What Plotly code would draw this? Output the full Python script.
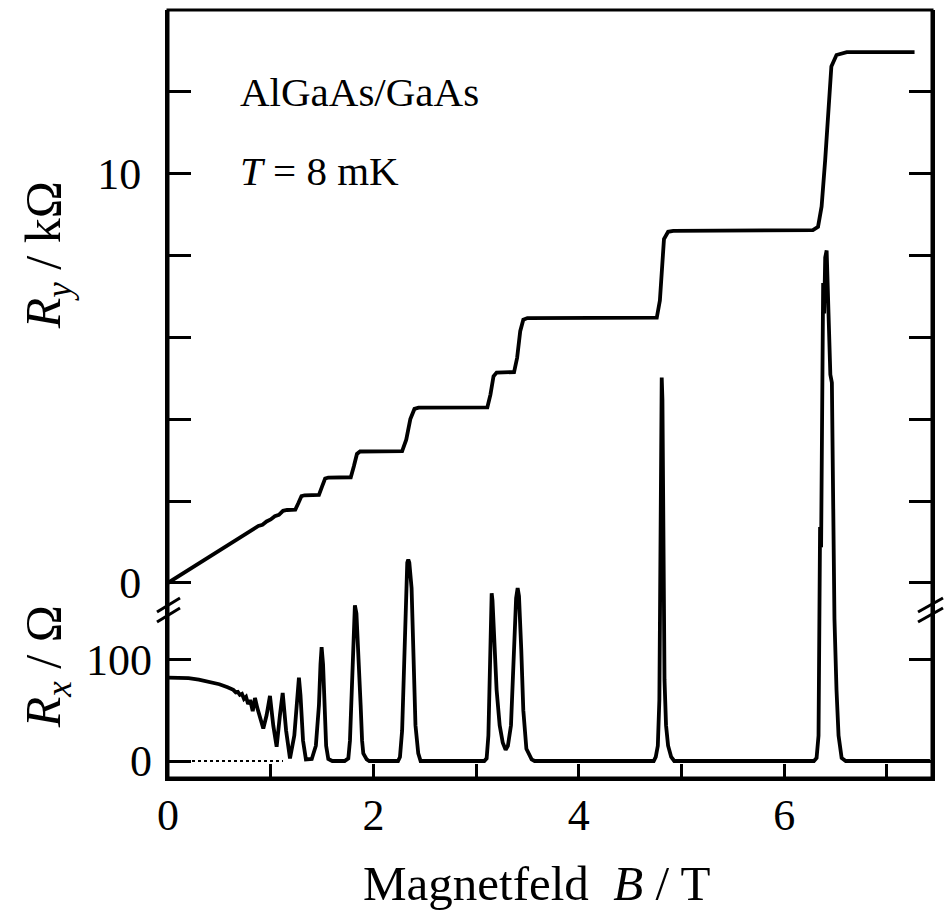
import plotly.graph_objects as go

# Hall resistance R_y (kOhm) versus magnetic field B (T)
field_hall = [0.00, 0.30, 0.60, 0.84, 0.88, 0.92, 0.96, 1.00, 1.04, 1.08, 1.12, 1.16,
              1.24, 1.27, 1.30, 1.33, 1.47, 1.50, 1.53, 1.56, 1.78, 1.81, 1.84, 1.87,
              2.28, 2.32, 2.36, 2.40, 2.44, 3.11, 3.14, 3.17, 3.20, 3.37, 3.40, 3.43,
              3.46, 3.50, 4.76, 4.79, 4.81, 4.83, 4.87, 4.92, 6.28, 6.33, 6.365, 6.40,
              6.46, 6.51, 6.61, 7.27]
r_hall_kohm = [0.00, 0.47, 0.94, 1.31, 1.39, 1.42, 1.50, 1.55, 1.63, 1.66, 1.76, 1.78,
               1.79, 1.95, 2.12, 2.14, 2.15, 2.35, 2.55, 2.57, 2.58, 2.85, 3.15, 3.21,
               3.22, 3.50, 4.00, 4.25, 4.28, 4.29, 4.60, 5.05, 5.14, 5.15, 5.50, 6.15,
               6.43, 6.47, 6.48, 6.90, 7.60, 8.40, 8.58, 8.60, 8.62, 8.70, 9.20, 10.34,
               12.62, 12.90, 12.97, 12.97]

# Longitudinal resistance R_x (Ohm) versus magnetic field B (T)
field_long = [0.00, 0.10, 0.20, 0.30, 0.40, 0.50, 0.58, 0.636, 0.66, 0.68, 0.70, 0.72,
              0.74, 0.76, 0.78, 0.80, 0.825, 0.847, 0.87, 0.90, 0.928, 0.96, 0.993,
              1.025, 1.058, 1.09, 1.117, 1.15, 1.188, 1.23, 1.26, 1.275, 1.29, 1.315,
              1.343, 1.40, 1.44, 1.47, 1.485, 1.496, 1.51, 1.525, 1.54, 1.561, 1.60,
              1.72, 1.756, 1.772, 1.789, 1.805, 1.82, 1.835, 1.853, 1.876, 1.89, 1.902,
              1.935, 1.96,
              2.24, 2.259, 2.28, 2.30, 2.317, 2.33, 2.34, 2.35, 2.372, 2.39, 2.41, 2.437,
              2.46,
              3.08, 3.103, 3.12, 3.135, 3.145, 3.152, 3.16, 3.174, 3.20, 3.23, 3.26,
              3.288, 3.31, 3.34, 3.37, 3.39, 3.405, 3.418, 3.44, 3.46, 3.49, 3.541, 3.57,
              4.73, 4.75, 4.77, 4.785, 4.795, 4.802, 4.808, 4.815, 4.825, 4.835, 4.85,
              4.87, 4.90, 4.93,
              6.29, 6.316, 6.335, 6.345, 6.35, 6.36, 6.37, 6.38, 6.39, 6.40, 6.414,
              6.425, 6.44, 6.45, 6.465, 6.47, 6.48, 6.49, 6.51, 6.53, 6.56, 6.60, 7.42]
r_long_ohm = [82.0, 82.0, 81.5, 80.0, 78.0, 75.5, 72.5, 70.0, 67.5, 68.0, 65.0, 66.0,
              61.0, 63.0, 56.0, 60.0, 49.0, 62.0, 52.0, 40.0, 32.0, 45.0, 64.0,
              35.0, 14.0, 45.0, 67.0, 30.0, 2.6, 25.0, 65.0, 82.0, 65.0, 20.0,
              1.6, 2.0, 15.0, 55.0, 95.0, 112.0, 95.0, 50.0, 15.0, 2.0, 0.0,
              0.0, 2.6, 20.0, 76.0, 130.0, 153.0, 145.0, 112.0, 55.0, 20.0, 7.5,
              1.6, 0.0,
              0.0, 4.0, 30.0, 110.0, 175.0, 195.0, 198.0, 195.0, 170.0, 100.0, 35.0, 7.5,
              0.0,
              0.0, 2.6, 25.0, 110.0, 160.0, 165.0, 158.0, 130.0, 70.0, 35.0, 18.0,
              11.0, 15.0, 35.0, 120.0, 160.0, 170.0, 162.0, 110.0, 50.0, 12.0, 1.6, 0.0,
              0.0, 4.0, 15.0, 60.0, 250.0, 360.0, 377.0, 355.0, 220.0, 80.0, 35.0,
              15.0, 4.0, 0.0,
              0.0, 3.0, 25.0, 120.0, 230.0, 210.0, 420.0, 470.0, 440.0, 495.0, 502.0,
              470.0, 435.0, 380.0, 372.0, 300.0, 220.0, 140.0, 70.0, 25.0, 3.0, 0.0, 0.0]

# Zero reference for R_x at low field
zero_ref_field = [0.0, 1.12]
zero_ref_ohm = [0.0, 0.0]

# Axis ranges and ticks
b_range = [0.0, 7.44]
hall_range = [-4.77, 14.0]
long_range = [-16.7, 738.4]
b_ticks = [0, 1, 2, 3, 4, 5, 6, 7]
b_ticktext = ["0", "", "2", "", "4", "", "6", ""]
hall_ticks = [0, 2, 4, 6, 8, 10, 12]
hall_ticktext = ["0", "", "", "", "", "10", ""]
long_ticks = [0, 100]
long_ticktext = ["0", "100"]

SERIF = "Liberation Serif"
INK = "black"

fig = go.Figure()
fig.add_trace(go.Scatter(x=field_hall, y=r_hall_kohm, mode="lines",
                         line=dict(color=INK, width=3.8), yaxis="y"))
fig.add_trace(go.Scatter(x=zero_ref_field, y=zero_ref_ohm, mode="lines",
                         line=dict(color=INK, width=2, dash="dot"), yaxis="y2"))
fig.add_trace(go.Scatter(x=field_long, y=r_long_ohm, mode="lines",
                         line=dict(color=INK, width=3.8), yaxis="y2"))

tickfont = dict(family=SERIF, size=44, color=INK)

fig.update_layout(
    width=949, height=921,
    margin=dict(l=168, r=17, t=10, b=143),
    paper_bgcolor="white", plot_bgcolor="white",
    showlegend=False,
    xaxis=dict(range=b_range, tickvals=b_ticks, ticktext=b_ticktext,
               ticks="inside", ticklen=14, tickwidth=3, tickcolor=INK,
               showline=True, linewidth=3, linecolor=INK, mirror=False,
               showgrid=False, zeroline=False, tickfont=tickfont,
               ticklabelstandoff=-4),
    xaxis2=dict(range=b_range, overlaying="x", side="top", tickvals=b_ticks,
                ticks="inside", ticklen=23, tickwidth=3, tickcolor=INK,
                showline=True, linewidth=3, linecolor=INK,
                showticklabels=False, showgrid=False, zeroline=False),
    yaxis=dict(range=hall_range, tickvals=hall_ticks, ticktext=hall_ticktext,
               ticks="inside", ticklen=23, tickwidth=3, tickcolor=INK,
               showline=True, linewidth=3, linecolor=INK, mirror="ticks",
               showgrid=False, zeroline=False, tickfont=tickfont,
               ticklabelstandoff=15),
    yaxis2=dict(range=long_range, overlaying="y", side="left",
                tickvals=long_ticks, ticktext=long_ticktext,
                ticks="inside", ticklen=23, tickwidth=3, tickcolor=INK,
                showline=False, mirror="ticks",
                showgrid=False, zeroline=False, tickfont=tickfont,
                ticklabelstandoff=15),
)

# Plot frame
fig.add_shape(type="rect", xref="paper", yref="paper", x0=0, y0=0, x1=1, y1=1,
              line=dict(color=INK, width=3), layer="above")

# Axis titles and sample labels
fig.add_annotation(text="Magnetfeld  <i>B</i> / T", xref="paper", yref="paper",
                   x=0.483, y=-0.137, xanchor="center", yanchor="middle",
                   showarrow=False, font=dict(family=SERIF, size=49, color=INK))
fig.add_annotation(text="<i>R</i><sub><i>y</i></sub> / kΩ", xref="paper", yref="paper",
                   x=-0.158, y=0.681, xanchor="center", yanchor="middle",
                   textangle=-90, showarrow=False,
                   font=dict(family=SERIF, size=50, color=INK))
fig.add_annotation(text="<i>R</i><sub><i>x</i></sub> / Ω", xref="paper", yref="paper",
                   x=-0.158, y=0.1445, xanchor="center", yanchor="middle",
                   textangle=-90, showarrow=False,
                   font=dict(family=SERIF, size=50, color=INK))
fig.add_annotation(text="AlGaAs/GaAs", xref="x", yref="y", x=0.68, y=12.0,
                   xanchor="left", yanchor="middle", showarrow=False,
                   font=dict(family=SERIF, size=41, color=INK))
fig.add_annotation(text="<i>T</i> = 8 mK", xref="x", yref="y", x=0.68, y=10.07,
                   xanchor="left", yanchor="middle", showarrow=False,
                   font=dict(family=SERIF, size=41, color=INK))

# Axis break marks on the left and right frame
for x0, x1 in [(-0.0144, 0.0157), (0.9817, 1.0144)]:
    for y0, y1 in [(0.2161, 0.2344), (0.2031, 0.2214)]:
        fig.add_shape(type="line", xref="paper", yref="paper",
                      x0=x0, y0=y0, x1=x1, y1=y1,
                      line=dict(color=INK, width=3), layer="above")

fig.write_html("out.html")
